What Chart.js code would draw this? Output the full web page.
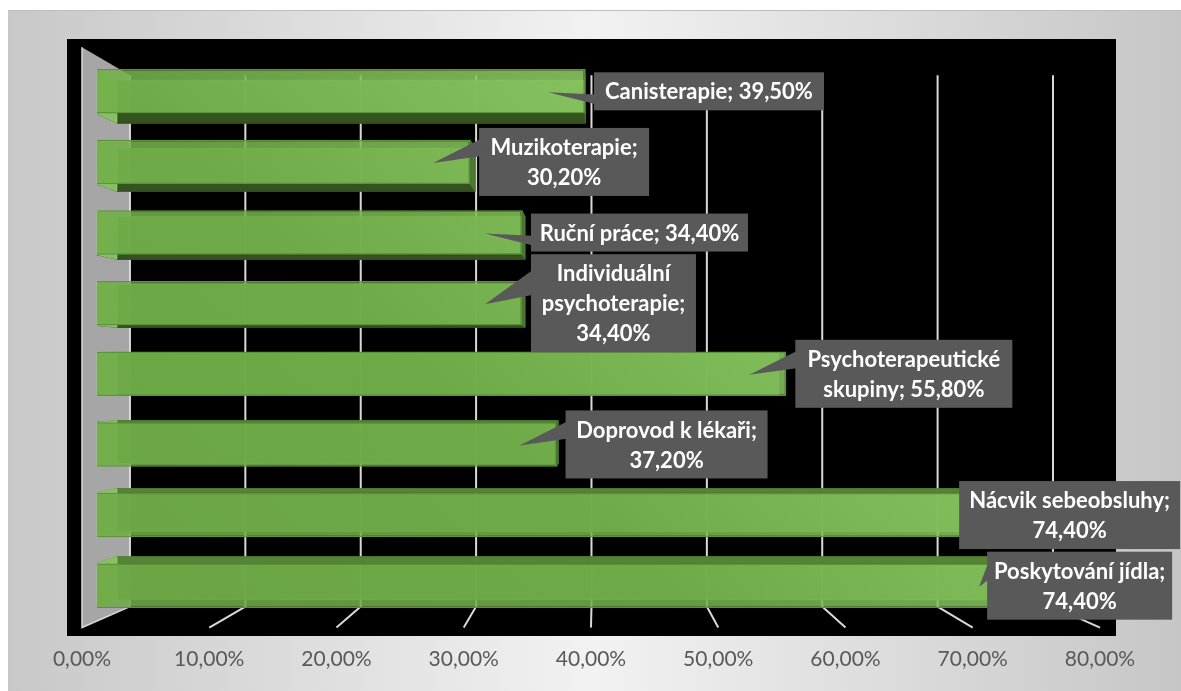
<!DOCTYPE html>
<html>
<head>
<meta charset="utf-8">
<script src="https://cdn.jsdelivr.net/npm/chart.js@4.4.1/dist/chart.umd.min.js"></script>
<style>
  html, body { margin: 0; padding: 0; background: #fff; }
  #wrap { width: 1181px; height: 691px; }
</style>
</head>
<body>
<div id="wrap"><canvas id="therapyChart" width="1181" height="691"></canvas></div>
<script>
// Služby / aktivity a podíl odpovědí
const categories = [
  'Canisterapie',
  'Muzikoterapie',
  'Ruční práce',
  'Individuální psychoterapie',
  'Psychoterapeutické skupiny',
  'Doprovod k lékaři',
  'Nácvik sebeobsluhy',
  'Poskytování jídla'
];
const shares = [39.5, 30.2, 34.4, 34.4, 55.8, 37.2, 74.4, 74.4];
const axisTicks = [0, 10, 20, 30, 40, 50, 60, 70, 80];

// callout boxes: width of each box and a left nudge for the ones near the edge
const calloutWidths = [230, 170, 217, 165, 217, 202, 221, 185];
const calloutShift = [0, 0, 0, 0, 0, 0, -66, -38];

const fmt = v => v.toFixed(2).replace('.', ',') + '%';
const xMax = axisTicks[axisTicks.length - 1];

// fake 3d box: vanishing point as a fraction of the chart area,
// and how much the scene shrinks from the front plane (0) to the back wall (1)
const VP = { fx: 0.505, fy: 0.5717 };
const SHRINK = { x: 0.0933, y: 0.0843 };
const BAR_FRONT = 0.3125;
const BAR_BACK = 0.73;
const kx = t => 1 - SHRINK.x * t;
const ky = t => 1 - SHRINK.y * t;

// bars live on their own axis; its range makes the bar plane sit behind the front plane
const kf = kx(BAR_FRONT);
const barMin = -VP.fx * (1 - kf) * xMax / kf;
const barMax = barMin + xMax / kf;

function vanish(chart) {
  const a = chart.chartArea;
  return { x: a.left + VP.fx * (a.right - a.left), y: a.top + VP.fy * (a.bottom - a.top) };
}

// point on the bar plane -> same point pushed to depth t
function toDepth(chart, px, py, t) {
  const v = vanish(chart);
  return {
    x: v.x + (px - v.x) * kx(t) / kx(BAR_FRONT),
    y: v.y + (py - v.y) * ky(t) / ky(BAR_FRONT)
  };
}

function poly(ctx, pts, fill, stroke) {
  ctx.beginPath();
  ctx.moveTo(pts[0].x, pts[0].y);
  for (let i = 1; i < pts.length; i++) ctx.lineTo(pts[i].x, pts[i].y);
  ctx.closePath();
  if (fill) { ctx.fillStyle = fill; ctx.fill(); }
  if (stroke) { ctx.strokeStyle = stroke; ctx.lineWidth = 1; ctx.stroke(); }
}

const backdrop = {
  id: 'backdrop',
  beforeDraw(chart) {
    const ctx = chart.ctx;
    const a = chart.chartArea;
    const xb = chart.scales.xb;
    ctx.save();
    // outer panel
    const g = ctx.createLinearGradient(8, 0, chart.width, 0);
    g.addColorStop(0, '#c8c8c8');
    g.addColorStop(0.5, '#f2f2f2');
    g.addColorStop(1, '#c6c6c6');
    ctx.fillStyle = g;
    ctx.fillRect(8, 10, chart.width - 8, chart.height - 10);
    ctx.strokeStyle = '#bdbdbd';
    ctx.beginPath(); ctx.moveTo(8, 10.5); ctx.lineTo(chart.width, 10.5); ctx.stroke();

    // plot area
    ctx.fillStyle = '#000';
    ctx.fillRect(67, 39, 1049, 597);

    const p0 = xb.getPixelForValue(0);
    // left side wall
    const wall = [
      toDepth(chart, p0, a.top, 0), toDepth(chart, p0, a.top, 1),
      toDepth(chart, p0, a.bottom, 1), toDepth(chart, p0, a.bottom, 0)
    ];
    poly(ctx, wall, '#a6a6a6');
    ctx.strokeStyle = '#d9d9d9';
    ctx.lineWidth = 1.5;
    ctx.beginPath();
    ctx.moveTo(wall[0].x, wall[0].y); ctx.lineTo(wall[3].x, wall[3].y); ctx.lineTo(wall[2].x, wall[2].y);
    ctx.stroke();

    // back wall gridlines and the floor lines running to the front
    ctx.strokeStyle = '#d9d9d9';
    ctx.lineWidth = 2;
    axisTicks.forEach(v => {
      const px = xb.getPixelForValue(v);
      const bt = toDepth(chart, px, a.top, 1);
      const bb = toDepth(chart, px, a.bottom, 1);
      const fb = toDepth(chart, px, a.bottom, 0);
      ctx.beginPath();
      ctx.moveTo(bt.x, bt.y); ctx.lineTo(bb.x, bb.y);
      if (v > 0) ctx.lineTo(fb.x, fb.y);
      ctx.stroke();
    });
    ctx.restore();
  }
};

// sides of each bar, drawn before the (see-through) front face
const barSides = {
  id: 'barSides',
  beforeDatasetsDraw(chart) {
    const ctx = chart.ctx;
    const v = vanish(chart);
    ctx.save();
    chart.getDatasetMeta(0).data.forEach(bar => {
      const x0 = bar.base, x1 = bar.x;
      const y0 = bar.y - bar.height / 2, y1 = bar.y + bar.height / 2;
      const B = (x, y) => toDepth(chart, x, y, BAR_BACK);
      const f00 = { x: x0, y: y0 }, f10 = { x: x1, y: y0 }, f01 = { x: x0, y: y1 }, f11 = { x: x1, y: y1 };
      const b00 = B(x0, y0), b10 = B(x1, y0), b01 = B(x0, y1), b11 = B(x1, y1);
      poly(ctx, [b00, b10, b11, b01], 'rgba(90,140,58,0.9)', 'rgba(150,200,120,0.5)');
      if (y0 > v.y) poly(ctx, [f00, f10, b10, b00], '#558436', '#4d7a31');
      if (y1 < v.y) poly(ctx, [f01, f11, b11, b01], '#34531f', '#2d481b');
      poly(ctx, [f00, b00, b01, f01], '#86c161', 'rgba(160,210,130,0.6)');
      if (x1 < v.x) poly(ctx, [f10, b10, b11, f11], '#4c7a30', '#456f2b');
    });
    ctx.restore();
  }
};

const LINE_H = 30;
const PAD_Y = 4;
const PAD_X = 6;

function wrap(ctx, text, maxW) {
  const words = text.split(' ');
  const lines = [];
  let cur = '';
  words.forEach(w => {
    const test = cur ? cur + ' ' + w : w;
    if (cur && ctx.measureText(test).width > maxW) {
      lines.push(cur);
      cur = w;
    } else {
      cur = test;
    }
  });
  if (cur) lines.push(cur);
  return lines;
}

const callouts = {
  id: 'callouts',
  afterDatasetsDraw(chart) {
    const ctx = chart.ctx;
    ctx.save();
    ctx.font = 'bold 22px Lato';
    chart.getDatasetMeta(0).data.forEach((bar, i) => {
      const text = categories[i] + '; ' + fmt(shares[i]);
      const w = calloutWidths[i];
      const lines = wrap(ctx, text, w - PAD_X * 2);
      const h = lines.length * LINE_H + PAD_Y * 2;
      const left = bar.x + 9 + calloutShift[i];
      const top = bar.y - h / 2;
      const tip = { x: bar.x - 37, y: bar.y + 1 };
      ctx.fillStyle = '#595959';
      ctx.fillRect(left, top, w, h);
      if (tip.x < left) {
        const below = lines.length === 1;
        const ya = top + h * (below ? 7 : 2) / 12;
        const yb = top + h * (below ? 10 : 5) / 12;
        poly(ctx, [{ x: left + 1, y: ya }, tip, { x: left + 1, y: yb }], '#595959');
      }
      ctx.fillStyle = '#ffffff';
      ctx.textAlign = 'center';
      ctx.textBaseline = 'middle';
      lines.forEach((ln, k) => {
        ctx.fillText(ln, left + w / 2, top + PAD_Y + LINE_H * (k + 0.5) + 1);
      });
    });
    ctx.restore();
  }
};

const ctx = document.getElementById('therapyChart').getContext('2d');
const therapyChart = new Chart(ctx, {
  type: 'bar',
  data: {
    labels: categories,
    datasets: [{
      label: 'Podíl',
      data: shares,
      xAxisID: 'xb',
      backgroundColor: (c) => {
        const a = c.chart.chartArea;
        if (!a) return 'rgba(112,173,71,0.88)';
        const g = c.chart.ctx.createLinearGradient(a.left, a.bottom, a.left + (a.right - a.left) * 0.5, a.top);
        g.addColorStop(0, 'rgba(110,169,70,0.88)');
        g.addColorStop(0.55, 'rgba(114,176,74,0.88)');
        g.addColorStop(1, 'rgba(142,205,102,0.88)');
        return g;
      },
      borderColor: '#5b9439',
      borderWidth: 1.5,
      categoryPercentage: 1,
      barPercentage: 0.63
    }]
  },
  options: {
    indexAxis: 'y',
    responsive: false,
    animation: false,
    layout: { padding: { left: 82, right: 81, top: 56, bottom: 20 } },
    plugins: {
      legend: { display: false },
      tooltip: { enabled: false }
    },
    scales: {
      y: { display: false },
      xb: { type: 'linear', display: false, min: barMin, max: barMax },
      x: {
        type: 'linear',
        position: 'bottom',
        min: 0,
        max: xMax,
        afterBuildTicks: scale => { scale.ticks = axisTicks.map(value => ({ value })); },
        afterFit: scale => { scale.height = 50; },
        grid: { display: false, drawTicks: false },
        border: { display: false },
        ticks: {
          autoSkip: false,
          maxRotation: 0,
          padding: 26,
          color: '#595959',
          font: { family: 'Lato', size: 21 },
          callback: v => fmt(v)
        }
      }
    }
  },
  plugins: [backdrop, barSides, callouts]
});
</script>
</body>
</html>
